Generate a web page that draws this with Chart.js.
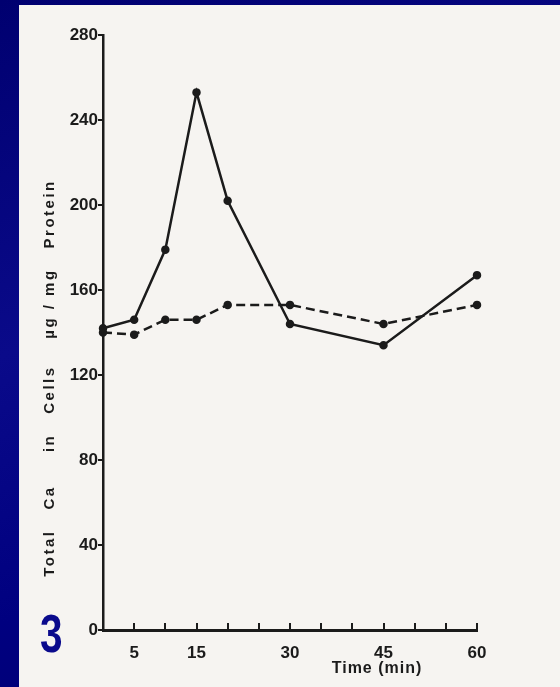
<!DOCTYPE html>
<html>
<head>
<meta charset="utf-8">
<script src="https://cdn.jsdelivr.net/npm/chart.js@4/dist/chart.umd.min.js"></script>
<style>
  html, body { margin: 0; padding: 0; }
  body {
    width: 560px; height: 687px; overflow: hidden; position: relative;
    background: linear-gradient(160deg, #000070 0%, #0a0a8a 40%, #000080 70%, #00006a 100%);
  }
  #paper {
    position: absolute; left: 19px; top: 5px; width: 541px; height: 682px;
    background: #f6f4f1;
  }
  #fig {
    position: absolute; left: 40px; top: 606px;
    font: bold 54px "Liberation Sans", Arial, sans-serif; color: #0a0a8c;
    transform: scaleX(0.75); transform-origin: left top; line-height: 54px;
  }
</style>
</head>
<body>
<div id="paper"><canvas id="myChart" width="541" height="682"></canvas></div>
<div id="fig">3</div>
<script>
// time points (min)
const times = [0, 5, 10, 15, 20, 30, 45, 60]
// total Ca in cells, ug/mg protein
const solidVals = [142, 146, 179, 253, 202, 144, 134, 167]
const dashedVals = [140, 139, 146, 146, 153, 153, 144, 153]
// only these x ticks carry a label
const xLabels = [5, 15, 30, 45, 60]
const yTitle = 'Total   Ca     in   Cells    \u00b5g / mg   Protein'
const xTitle = 'Time (min)'

const ink = '#1b1b1b'
const fam = '"Liberation Sans", Arial, sans-serif'

function pts(vals) {
  return times.map((t, i) => ({ x: t, y: vals[i] }))
}

// axis titles drawn by hand so the letters can be spread like the scan
const titles = {
  id: 'titles',
  afterDraw(chart) {
    const ctx = chart.ctx
    ctx.save()
    ctx.fillStyle = ink
    ctx.textAlign = 'center'
    ctx.textBaseline = 'middle'
    ctx.font = 'bold 15px ' + fam
    ctx.letterSpacing = '2.5px'
    ctx.translate(31, 373)
    ctx.rotate(-Math.PI / 2)
    ctx.fillText(yTitle, 0, 0)
    ctx.restore()

    ctx.save()
    ctx.fillStyle = ink
    ctx.textAlign = 'center'
    ctx.textBaseline = 'middle'
    ctx.font = 'bold 16px ' + fam
    ctx.letterSpacing = '1px'
    ctx.fillText(xTitle, 358, 664)
    ctx.restore()
  }
}

const config = {
  type: 'line',
  data: {
    datasets: [{
      label: 'solid',
      data: pts(solidVals),
      borderColor: ink,
      backgroundColor: ink,
      borderWidth: 2.5,
      pointRadius: 3,
      pointBackgroundColor: ink,
      clip: false,
      tension: 0
    }, {
      label: 'dashed',
      data: pts(dashedVals),
      borderColor: ink,
      backgroundColor: ink,
      borderWidth: 2.5,
      borderDash: [9, 5],
      pointRadius: 3,
      pointBackgroundColor: ink,
      clip: false,
      tension: 0
    }]
  },
  options: {
    responsive: false,
    animation: false,
    layout: { padding: { left: 0, top: 30, right: 83, bottom: 0 } },
    plugins: { legend: { display: false }, tooltip: { enabled: false } },
    scales: {
      x: {
        type: 'linear',
        min: 0, max: 60,
        afterFit(scale) { scale.height = 57 },
        border: { color: ink, width: 3 },
        grid: { drawOnChartArea: false, color: ink, lineWidth: 2, tickLength: -7 },
        ticks: {
          stepSize: 5,
          padding: 20,
          color: ink,
          font: { family: fam, size: 17, weight: 'bold' },
          maxRotation: 0,
          autoSkip: false,
          callback: v => xLabels.includes(v) ? String(v) : ''
        }
      },
      y: {
        min: 0, max: 280,
        afterFit(scale) { scale.width = 84 },
        border: { color: ink, width: 2.5 },
        grid: { drawOnChartArea: false, color: ink, lineWidth: 2, tickLength: 5 },
        ticks: {
          stepSize: 40,
          padding: 0,
          color: ink,
          font: { family: fam, size: 17, weight: 'bold' }
        }
      }
    }
  },
  plugins: [titles]
}

const myChart = new Chart(document.getElementById('myChart'), config)
</script>
</body>
</html>
